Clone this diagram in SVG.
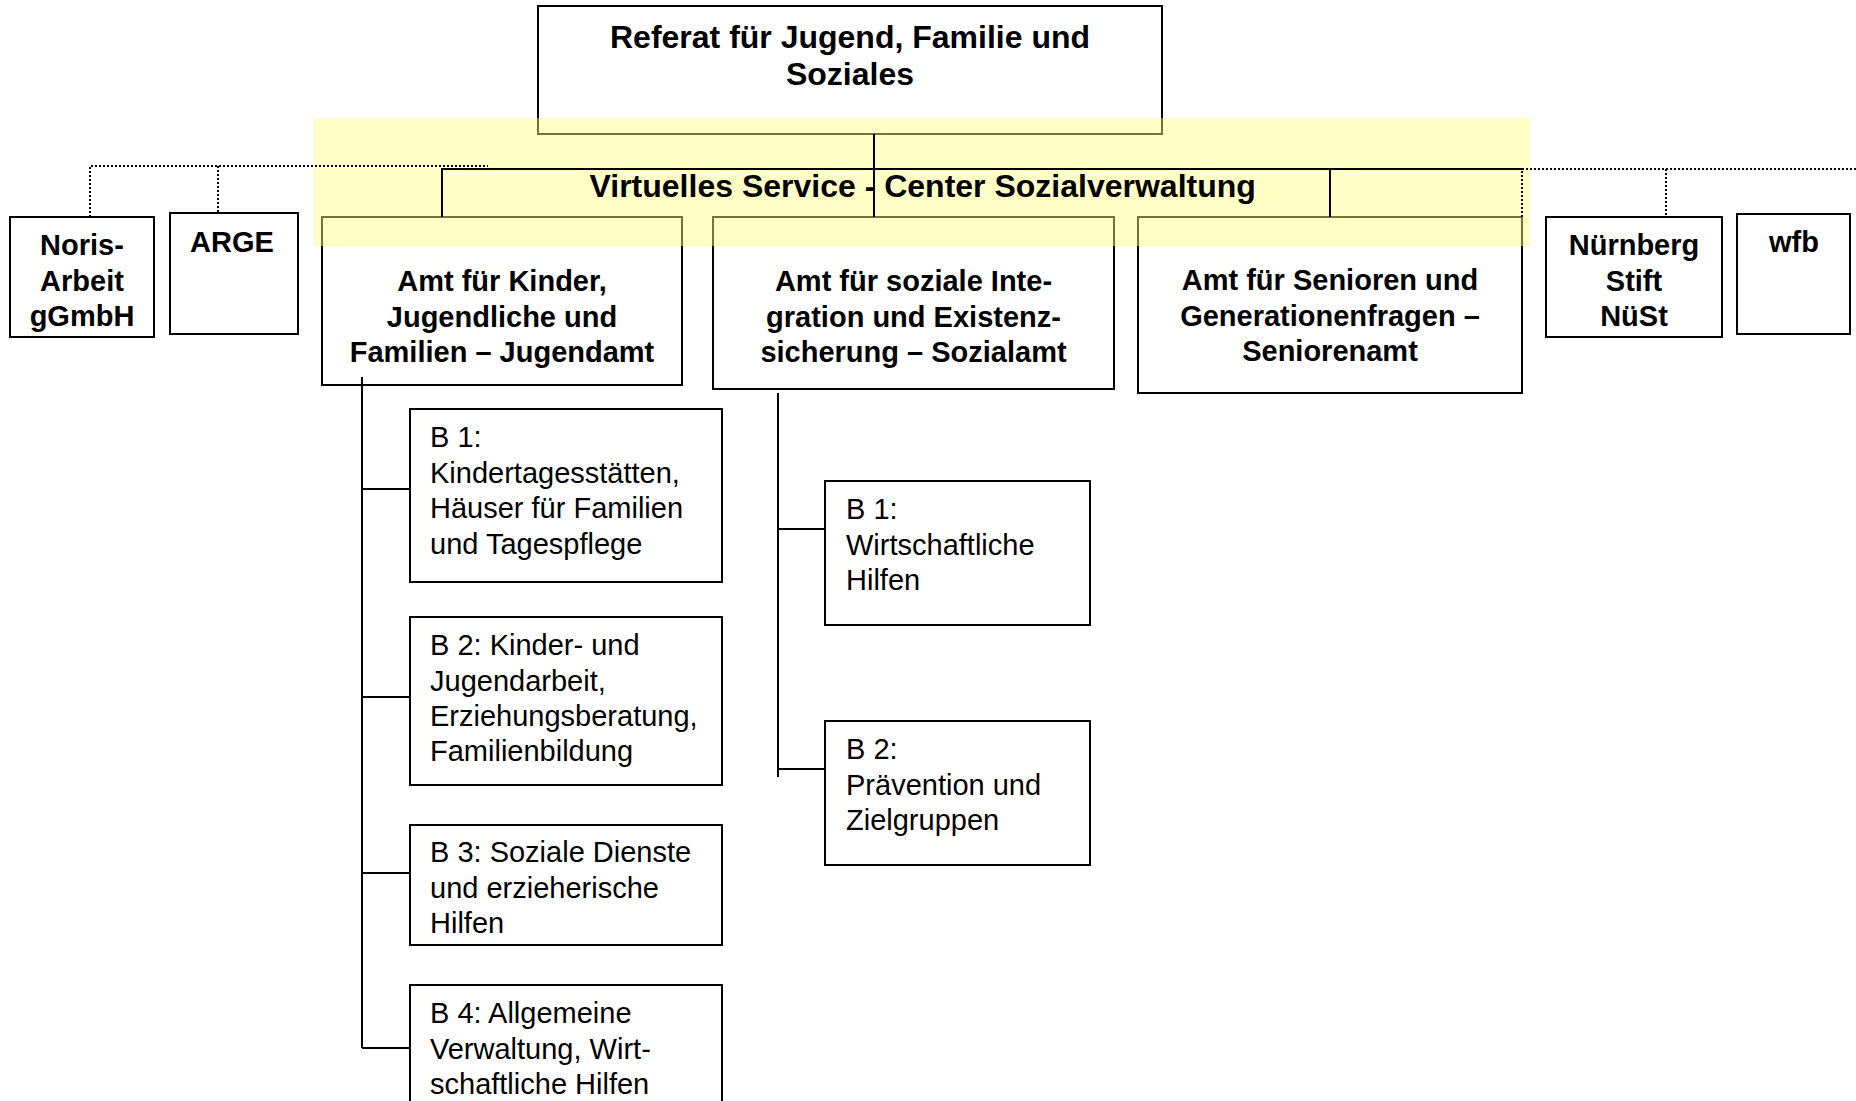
<svg xmlns="http://www.w3.org/2000/svg" width="1856" height="1101" viewBox="0 0 1856 1101">
<style>
.box{fill:#ffffff;stroke:#000000;stroke-width:2}
.b{font-family:"Liberation Sans",Arial,sans-serif;font-weight:bold;font-size:29px;fill:#000000;text-anchor:middle}
.big{font-size:32px}
.r{font-family:"Liberation Sans",Arial,sans-serif;font-size:29px;fill:#000000}
.ln{fill:none;stroke:#000000;stroke-width:2}
.dot{fill:none;stroke:#000000;stroke-width:2;stroke-dasharray:2 2}
</style>
<rect x="0" y="0" width="1856" height="1101" fill="#ffffff"/>
<g id="referat">
<rect class="box" x="538" y="6" width="624" height="128"/>
<text class="b big" x="850" y="47.5">Referat für Jugend, Familie und</text>
<text class="b big" x="850" y="85">Soziales</text>
</g>
<g id="noris">
<rect class="box" x="10" y="217" width="144" height="120"/>
<text class="b" x="82" y="255">Noris-</text>
<text class="b" x="82" y="290.5">Arbeit</text>
<text class="b" x="82" y="326">gGmbH</text>
</g>
<g id="arge">
<rect class="box" x="170" y="213" width="128" height="121"/>
<text class="b" x="232" y="252">ARGE</text>
</g>
<g id="jugendamt">
<rect class="box" x="322" y="217" width="360" height="168"/>
<text class="b" x="502" y="291">Amt für Kinder,</text>
<text class="b" x="502" y="326.5">Jugendliche und</text>
<text class="b" x="502" y="362">Familien – Jugendamt</text>
</g>
<g id="sozialamt">
<rect class="box" x="713" y="217" width="401" height="172"/>
<text class="b" x="913.5" y="291">Amt für soziale Inte-</text>
<text class="b" x="913.5" y="326.5">gration und Existenz-</text>
<text class="b" x="913.5" y="362">sicherung – Sozialamt</text>
</g>
<g id="seniorenamt">
<rect class="box" x="1138" y="217" width="384" height="176"/>
<text class="b" x="1330" y="290">Amt für Senioren und</text>
<text class="b" x="1330" y="325.5">Generationenfragen –</text>
<text class="b" x="1330" y="361">Seniorenamt</text>
</g>
<g id="nuernberg-stift">
<rect class="box" x="1546" y="217" width="176" height="120"/>
<text class="b" x="1634" y="255">Nürnberg</text>
<text class="b" x="1634" y="290.5">Stift</text>
<text class="b" x="1634" y="326">NüSt</text>
</g>
<g id="wfb">
<rect class="box" x="1737" y="214" width="113" height="120"/>
<text class="b" x="1794" y="252">wfb</text>
</g>
<g id="ja-b1">
<rect class="box" x="410" y="409" width="312" height="173"/>
<text class="r" x="430" y="447">B 1:</text>
<text class="r" x="430" y="482.5">Kindertagesstätten,</text>
<text class="r" x="430" y="518">Häuser für Familien</text>
<text class="r" x="430" y="553.5">und Tagespflege</text>
</g>
<g id="ja-b2">
<rect class="box" x="410" y="617" width="312" height="168"/>
<text class="r" x="430" y="655">B 2: Kinder- und</text>
<text class="r" x="430" y="690.5">Jugendarbeit,</text>
<text class="r" x="430" y="726">Erziehungsberatung,</text>
<text class="r" x="430" y="761">Familienbildung</text>
</g>
<g id="ja-b3">
<rect class="box" x="410" y="825" width="312" height="120"/>
<text class="r" x="430" y="862">B 3: Soziale Dienste</text>
<text class="r" x="430" y="897.5">und erzieherische</text>
<text class="r" x="430" y="933">Hilfen</text>
</g>
<g id="ja-b4">
<rect class="box" x="410" y="985" width="312" height="130"/>
<text class="r" x="430" y="1023">B 4: Allgemeine</text>
<text class="r" x="430" y="1058.5">Verwaltung, Wirt-</text>
<text class="r" x="430" y="1094">schaftliche Hilfen</text>
</g>
<g id="sa-b1">
<rect class="box" x="825" y="481" width="265" height="144"/>
<text class="r" x="846" y="519">B 1:</text>
<text class="r" x="846" y="554.5">Wirtschaftliche</text>
<text class="r" x="846" y="590">Hilfen</text>
</g>
<g id="sa-b2">
<rect class="box" x="825" y="721" width="265" height="144"/>
<text class="r" x="846" y="759">B 2:</text>
<text class="r" x="846" y="794.5">Prävention und</text>
<text class="r" x="846" y="830">Zielgruppen</text>
</g>
<g id="service-center">
<rect x="314" y="118" width="1216" height="128" fill="#ffff80" fill-opacity="0.45"/>
<text class="b big" x="589.5" y="197" style="text-anchor:start">Virtuelles Service - Center Sozialverwaltung</text>
</g>
<g id="connectors">
<path class="ln" d="M874 134 V217"/>
<path class="ln" d="M442 217 V169 H1522"/>
<path class="ln" d="M1330 169 V217"/>
<path class="ln" d="M362 377 V1048 M362 489 H410 M362 697 H410 M362 873 H410 M362 1048 H410"/>
<path class="ln" d="M778 393 V777 M778 529 H825 M778 769 H825"/>
<path class="dot" d="M90 217 V166 H488 M218 166 V213"/>
<path class="dot" d="M1522 217 V169 H1856 M1666 169 V217"/>
</g>
</svg>
